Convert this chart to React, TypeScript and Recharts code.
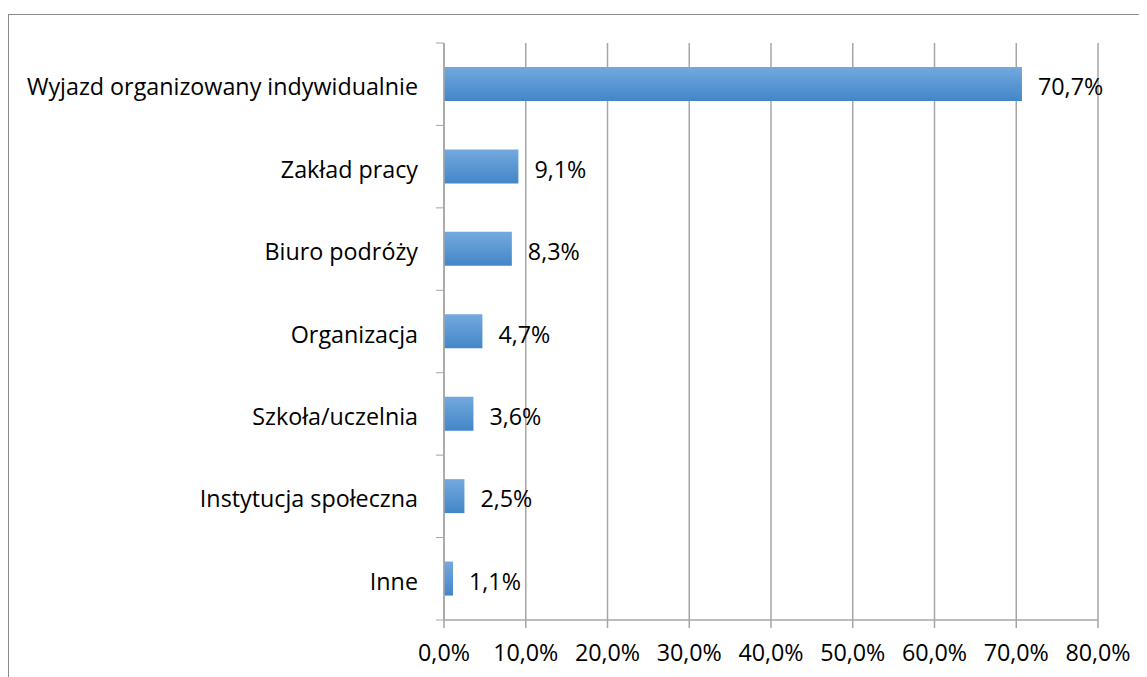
import { BarChart, Bar, XAxis, YAxis, CartesianGrid, LabelList } from "recharts";

const CATEGORIES = [
  "Wyjazd organizowany indywidualnie",
  "Zakład pracy",
  "Biuro podróży",
  "Organizacja",
  "Szkoła/uczelnia",
  "Instytucja społeczna",
  "Inne",
];
const VALUES = [70.7, 9.1, 8.3, 4.7, 3.6, 2.5, 1.1];
const X_TICKS = [0, 10, 20, 30, 40, 50, 60, 70, 80];

const FONT = "'Open Sans', Lato, sans-serif";
const SIZE = 23.3;
const GRID = "#a6a6a6";

const data = CATEGORIES.map((name, i) => ({ name, value: VALUES[i] }));

const fmt = (v: number) => `${v.toFixed(1).replace(".", ",")}%`;

// category label plus the short tick marks Excel draws between categories
function CategoryTick(props: any) {
  const { x, y, payload, index, visibleTicksCount } = props;
  const half = payload?.offset ?? 41;
  const lx = x + 18;
  const last = index === (visibleTicksCount ?? CATEGORIES.length) - 1;
  return (
    <g>
      <text
        x={x}
        y={y + 2}
        textAnchor="end"
        dominantBaseline="central"
        fontSize={SIZE}
        fontFamily={FONT}
        fill="#000"
      >
        {payload.value}
      </text>
      <line x1={lx} x2={lx + 8} y1={y - half} y2={y - half} stroke={GRID} />
      {last && <line x1={lx} x2={lx + 8} y1={y + half} y2={y + half} stroke={GRID} />}
    </g>
  );
}

export default function App() {
  return (
    <div
      style={{
        position: "relative",
        width: 1139,
        height: 669,
        overflow: "hidden",
        fontFamily: FONT,
      }}
    >
      <div
        style={{
          position: "absolute",
          left: 0,
          top: 6,
          width: 1200,
          height: 700,
          border: "1px solid #8c8c8c",
        }}
      />
      <div style={{ position: "absolute", left: 0, top: 0 }}>
        <BarChart
          width={1139}
          height={669}
          data={data}
          layout="vertical"
          margin={{ top: 35, right: 49, bottom: 11, left: 0 }}
        >
          <defs>
            <linearGradient id="barFill" x1="0" y1="0" x2="0" y2="1">
              <stop offset="0%" stopColor="#74a9de" />
              <stop offset="100%" stopColor="#4286c9" />
            </linearGradient>
          </defs>
          <CartesianGrid horizontal={false} stroke={GRID} strokeWidth={1.5} />
          <XAxis
            type="number"
            domain={[0, 80]}
            ticks={X_TICKS}
            tickFormatter={fmt}
            height={46}
            tickSize={8}
            tickMargin={16}
            stroke={GRID}
            strokeWidth={1.5}
            tick={{ fontSize: SIZE, fill: "#000", fontFamily: FONT }}
            interval={0}
          />
          <YAxis
            type="category"
            dataKey="name"
            width={436}
            tickSize={8}
            tickMargin={18}
            tickLine={false}
            stroke={GRID}
            strokeWidth={1.5}
            tick={<CategoryTick />}
            interval={0}
          />
          <Bar dataKey="value" fill="url(#barFill)" barSize={34} isAnimationActive={false}>
            <LabelList
              dataKey="value"
              position="right"
              offset={16}
              formatter={(v: any) => fmt(Number(v))}
              style={{ fontSize: SIZE, fill: "#000", fontFamily: FONT, transform: "translateY(3px)" }}
            />
          </Bar>
        </BarChart>
      </div>
    </div>
  );
}
